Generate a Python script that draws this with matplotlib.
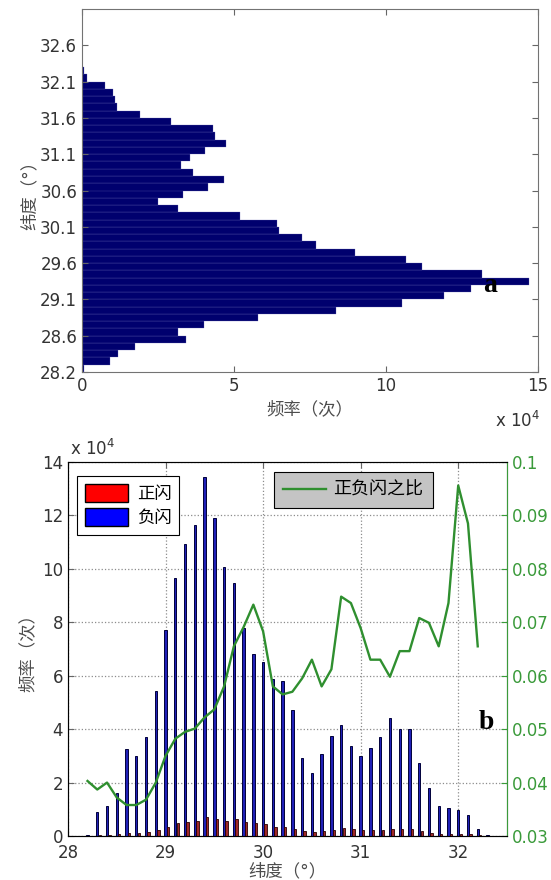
import numpy as np
import matplotlib
matplotlib.use("Agg")
import matplotlib.pyplot as plt
from matplotlib.patches import Patch
from matplotlib.lines import Line2D

plt.rcParams['font.family'] = ['DejaVu Sans', 'Noto Sans CJK SC']

# 纬度分箱中心 (0.1° 间隔)
lat = np.round(np.arange(28.2, 32.31, 0.1), 1)

# 各纬度闪电总频次 (x 10^4)
total = [0.07, 0.91, 1.18, 1.75, 3.43, 3.16, 4.01, 5.80, 8.36, 10.54,
         11.91, 12.79, 14.71, 13.15, 11.20, 10.66, 8.98, 7.69, 7.23, 6.49,
         6.40, 5.21, 3.16, 2.50, 3.32, 4.14, 4.66, 3.65, 3.27, 3.54,
         4.04, 4.75, 4.39, 4.31, 2.94, 1.92, 1.16, 1.10, 1.02, 0.77,
         0.18, 0.05]

# 负闪频次 (x 10^4)
neg = [0.04, 0.89, 1.14, 1.62, 3.27, 2.99, 3.70, 5.42, 7.70, 9.65,
       10.92, 11.65, 13.42, 11.90, 10.07, 9.46, 7.80, 6.83, 6.51, 5.88,
       5.81, 4.71, 2.91, 2.34, 3.08, 3.76, 4.17, 3.36, 3.00, 3.28,
       3.71, 4.40, 3.99, 3.99, 2.72, 1.79, 1.11, 1.05, 0.98, 0.77,
       0.25, 0.05]

# 正闪频次 (x 10^4)
pos = [0.00, 0.03, 0.05, 0.06, 0.12, 0.11, 0.14, 0.22, 0.35, 0.47,
       0.54, 0.58, 0.70, 0.64, 0.58, 0.62, 0.54, 0.50, 0.45, 0.34,
       0.33, 0.27, 0.17, 0.15, 0.18, 0.23, 0.31, 0.25, 0.21, 0.21,
       0.23, 0.26, 0.26, 0.26, 0.19, 0.13, 0.07, 0.08, 0.09, 0.07,
       0.02, 0.00]

# 正负闪之比 (28.2 ~ 32.2)
ratio = [0.0403, 0.0387, 0.0400, 0.0372, 0.0358, 0.0358, 0.0368, 0.0400,
         0.0450, 0.0482, 0.0495, 0.0501, 0.0522, 0.0537, 0.0580, 0.0655,
         0.0691, 0.0733, 0.0683, 0.0580, 0.0565, 0.0570, 0.0595, 0.0630,
         0.0580, 0.0612, 0.0748, 0.0736, 0.0689, 0.0630, 0.0630, 0.0598,
         0.0646, 0.0646, 0.0708, 0.0699, 0.0655, 0.0736, 0.0956, 0.0885,
         0.0655]

ytick_pos = np.arange(28.15, 32.7, 0.5)
ytick_lab = ['28.2', '28.6', '29.1', '29.6', '30.1', '30.6', '31.1', '31.6', '32.1', '32.6']

green = '#2f8f2f'

fig = plt.figure(figsize=(5.51, 8.8), dpi=100)
W, H = 551, 880

# ---- (a) 纬度分布直方图 ----
ax1 = fig.add_axes([82 / W, 1 - 372 / H, (538 - 82) / W, (372 - 9) / H])
ax1.barh(lat, total, height=0.1, color='#00006e', edgecolor='#6a6ab4', linewidth=0.2)
ax1.set_xlim(0, 15)
ax1.set_ylim(28.15, 33.15)
ax1.set_xticks([0, 5, 10, 15])
ax1.set_yticks(ytick_pos)
ax1.set_yticklabels(ytick_lab)
ax1.tick_params(direction='in', top=True, right=True, labelsize=12, length=4,
                color='0.4', labelcolor='0.2')
for s in ax1.spines.values():
    s.set_color('0.45')
ax1.set_xlabel('频率（次）', fontsize=12.5, color='0.3', labelpad=4)
ax1.set_ylabel('纬度（°）', fontsize=12.5, color='0.3', labelpad=1)
fig.text(540 / W, 1 - 431 / H, 'x 10$^4$', ha='right', va='bottom', fontsize=12, color='0.2')
fig.text(490 / W, 1 - 286 / H, 'a', ha='center', va='center', fontsize=20,
         fontweight='bold', family='Liberation Serif')

# ---- (b) 正负闪频次及其比值 ----
ax2 = fig.add_axes([68 / W, 1 - 836 / H, (507 - 68) / W, (836 - 462) / H])
ax2.set_axisbelow(True)
ax2.grid(True, linestyle=':', color='0.55', linewidth=0.9)
ax2.bar(lat, neg, width=0.024, color='#2020b8', edgecolor='#00003a', linewidth=0.7, zorder=3)
ax2.bar(lat + 0.026, pos, width=0.024, color='#a02828', edgecolor='#2a0000', linewidth=0.6, zorder=3)
ax2.set_xlim(28, 32.5)
ax2.set_ylim(0, 14)
ax2.set_xticks([28, 29, 30, 31, 32])
ax2.set_yticks(np.arange(0, 15, 2))
ax2.tick_params(direction='in', top=True, labelsize=12, length=4, color='0.4', labelcolor='0.2')
ax2.tick_params(axis='x', pad=6)
for s in ax2.spines.values():
    s.set_color('0.3')
ax2.set_xlabel('纬度（°）', fontsize=12.5, color='0.3', labelpad=0)
ax2.set_ylabel('频率（次）', fontsize=12.5, color='0.3', labelpad=4)
fig.text(70 / W, 1 - 459 / H, 'x 10$^4$', ha='left', va='bottom', fontsize=12, color='0.2')

ax3 = ax2.twinx()
ax3.plot(lat[:len(ratio)], ratio, color=green, linewidth=1.7)
ax3.set_ylim(0.03, 0.1)
ax3.set_yticks(np.arange(0.03, 0.101, 0.01))
ax3.set_yticklabels(['0.03', '0.04', '0.05', '0.06', '0.07', '0.08', '0.09', '0.1'])
ax3.tick_params(direction='in', labelsize=12, length=4, colors='#3a9a3a')
ax3.spines['right'].set_color('#3a9a3a')

leg1 = ax3.legend(handles=[Patch(facecolor='#ff0000', edgecolor='k', label='正闪'),
                           Patch(facecolor='#0000ff', edgecolor='k', label='负闪')],
                  loc='upper left', bbox_to_anchor=(77 / W, 1 - 476 / H),
                  bbox_transform=fig.transFigure, borderaxespad=0, fontsize=12.5,
                  frameon=True, fancybox=False, edgecolor='k', framealpha=1,
                  handlelength=2.5, handleheight=1.25, borderpad=0.45,
                  labelspacing=0.3, handletextpad=0.5)
leg1.get_frame().set_linewidth(0.8)
ax3.add_artist(leg1)
leg2 = ax3.legend(handles=[Line2D([0], [0], color=green, linewidth=1.7, label='正负闪之比')],
                  loc='upper left', bbox_to_anchor=(274 / W, 1 - 472 / H),
                  bbox_transform=fig.transFigure, borderaxespad=0, fontsize=13,
                  frameon=True, fancybox=False, edgecolor='k', facecolor='#c4c4c4',
                  framealpha=1, handlelength=2.4, borderpad=0.5, handletextpad=0.4)
leg2.get_frame().set_linewidth(0.8)

fig.text(486 / W, 1 - 722 / H, 'b', ha='center', va='center', fontsize=20,
         fontweight='bold', family='Liberation Serif')

fig.savefig('out.png', dpi=100)
